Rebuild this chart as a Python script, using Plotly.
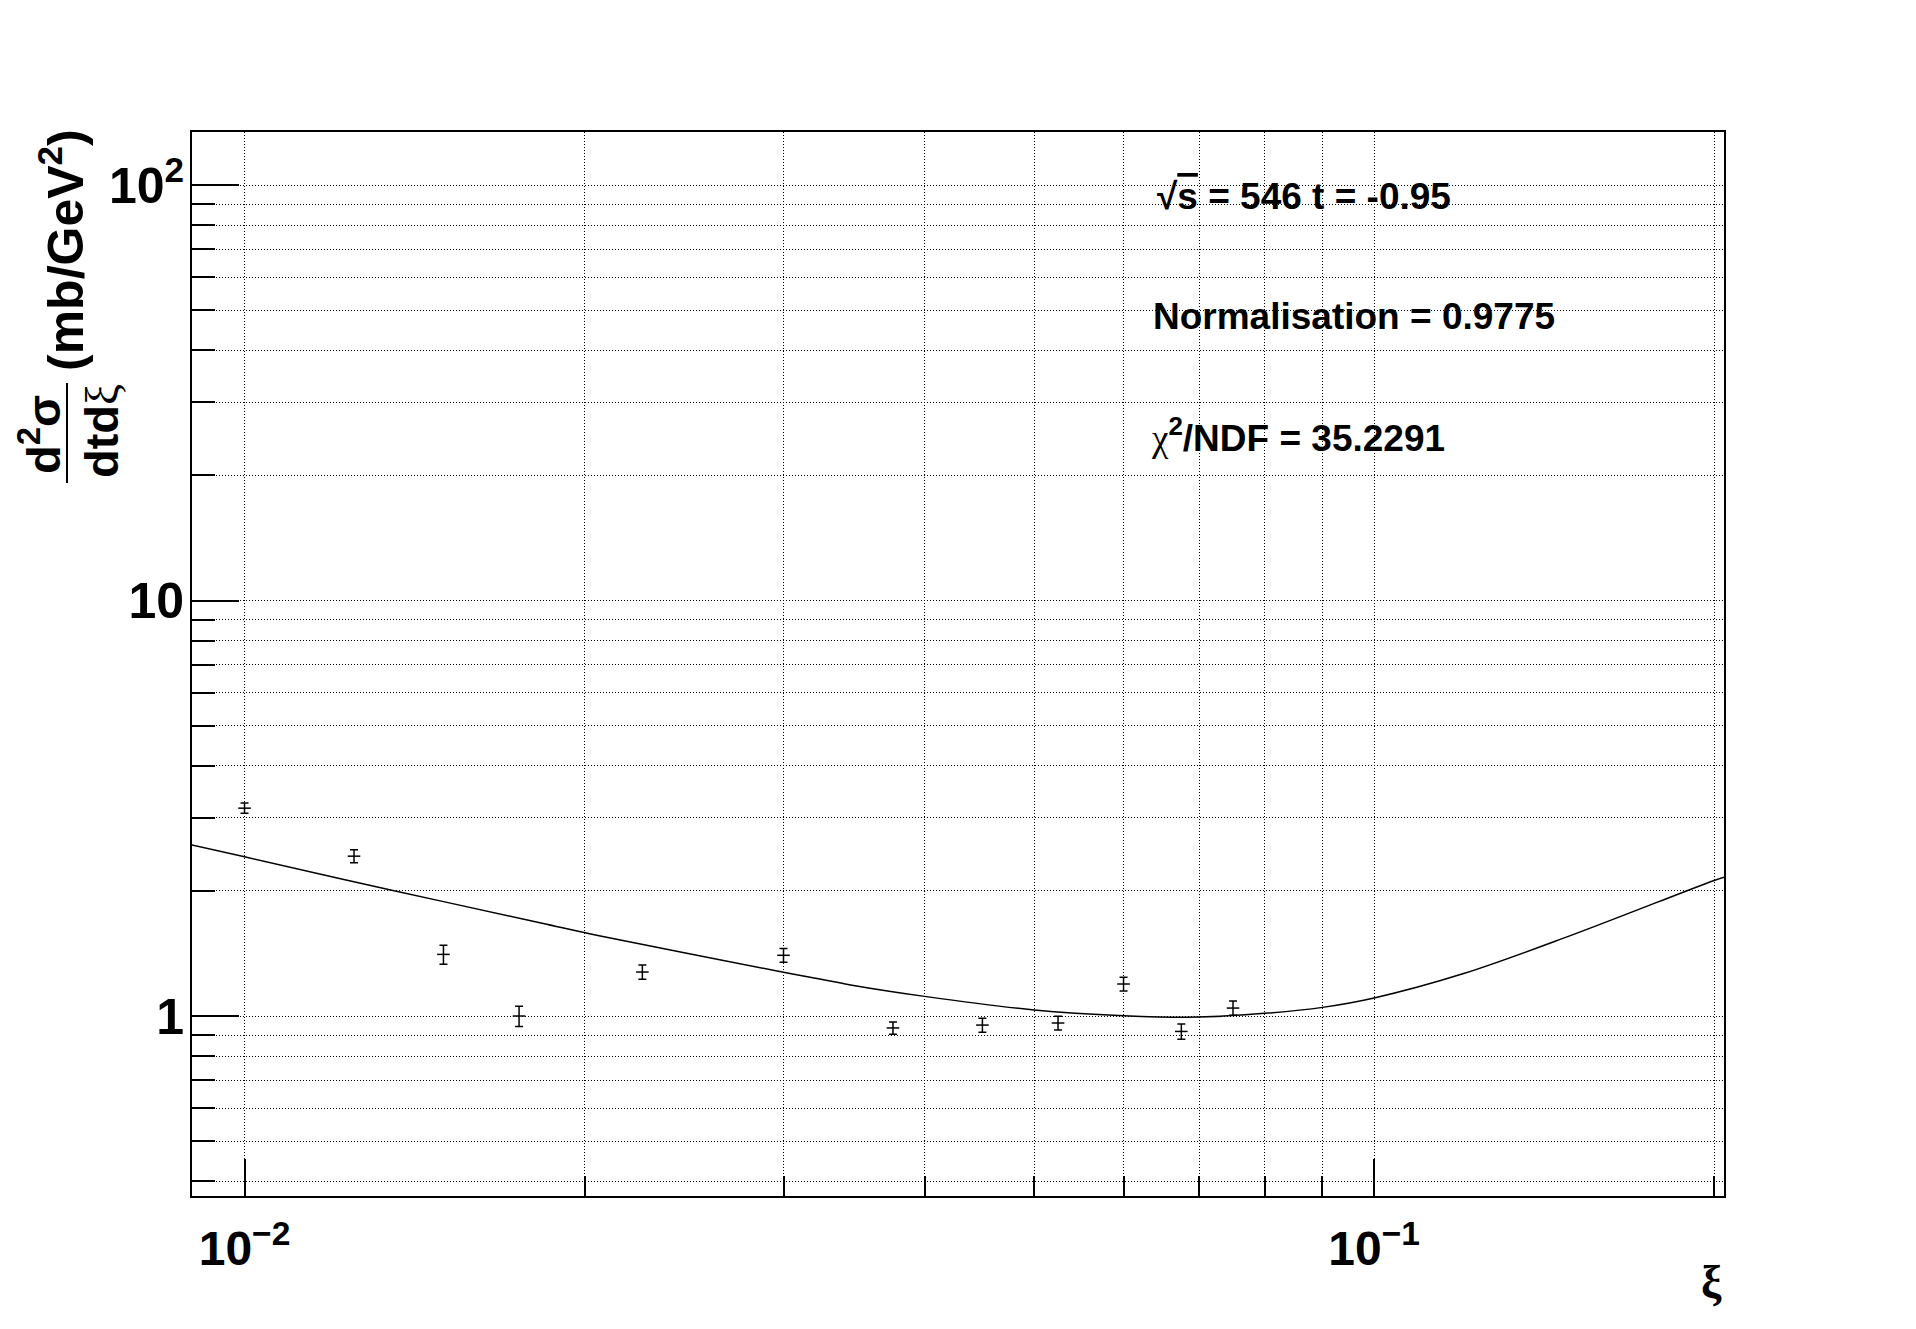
import plotly.graph_objects as go

# measured points
xi = [0.01, 0.0125, 0.015, 0.0175, 0.0225, 0.03, 0.0375, 0.045, 0.0525, 0.06, 0.0675, 0.075]
sigma = [3.164, 2.425, 1.407, 1.0, 1.276, 1.40, 0.936, 0.951, 0.962, 1.194, 0.918, 1.045]
sigma_err = [0.09, 0.087, 0.074, 0.056, 0.05, 0.053, 0.032, 0.037, 0.037, 0.046, 0.039, 0.041]

# fit curve
fit_xi = [0.00897, 0.01, 0.0135, 0.0183, 0.0206, 0.03, 0.0323, 0.0344, 0.04, 0.05,
          0.06, 0.07, 0.08, 0.09, 0.1, 0.12, 0.15, 0.2, 0.2044]
fit_sigma = [2.583, 2.416, 2.008, 1.675, 1.561, 1.274, 1.228, 1.188, 1.115, 1.034,
             1.002, 0.994, 1.015, 1.049, 1.105, 1.265, 1.57, 2.12, 2.16]

# axis ticks
x_grid = [0.01, 0.02, 0.03, 0.04, 0.05, 0.06, 0.07, 0.08, 0.09, 0.1, 0.2]
x_major = [0.01, 0.1]
x_major_text = ["10<sup>\u22122</sup>", "10<sup>\u22121</sup>"]
y_grid = [0.4, 0.5, 0.6, 0.7, 0.8, 0.9, 1, 2, 3, 4, 5, 6, 7, 8, 9,
          10, 20, 30, 40, 50, 60, 70, 80, 90, 100]
y_major = [1, 10, 100]
y_major_text = ["1", "10", "10<sup>2</sup>"]

W, H = 1916, 1329
# page has an 8px body margin, so shift the plot frame back
OFF = 8
PL, PT, PW, PH = 192, 132, 1532, 1064

def px(x):
    return (x - PL) / PW

def py(y):
    return (PT + PH - y) / PH

xr = [-2.0465, -0.6903]
yr = [-0.4332, 2.1276]
font = "Liberation Sans"

fig = go.Figure()
fig.add_trace(go.Scatter(x=fit_xi, y=fit_sigma, mode="lines",
                         line=dict(color="black", width=1.5, shape="spline"),
                         showlegend=False, hoverinfo="skip"))
fig.add_trace(go.Scatter(x=xi, y=sigma, mode="markers",
                         marker=dict(symbol="line-ew", size=9, color="black",
                                     line=dict(color="black", width=1.5)),
                         error_y=dict(type="data", array=sigma_err, color="black",
                                      thickness=1.5, width=4),
                         showlegend=False))

fig.update_layout(
    width=W, height=H,
    margin=dict(l=PL - OFF, r=W - PL - PW + OFF, t=PT - OFF, b=H - PT - PH + OFF),
    paper_bgcolor="white", plot_bgcolor="white",
    font=dict(family=font, color="black", size=48, weight="bold"),
    xaxis=dict(type="log", range=xr, tickvals=x_grid, showticklabels=False,
               ticks="inside", ticklen=20, tickwidth=1.5, tickcolor="black",
               showgrid=True, gridcolor="black", gridwidth=1, griddash="1px,2px",
               showline=True, linecolor="black", linewidth=2, mirror=True,
               zeroline=False),
    xaxis2=dict(type="log", range=xr, overlaying="x", anchor="y", side="bottom",
                tickvals=x_major, ticktext=x_major_text, ticks="inside",
                ticklen=37, tickwidth=1.5, tickcolor="black", showgrid=False,
                zeroline=False, ticklabelstandoff=20,
                tickfont=dict(family=font, size=48, color="black", weight="bold")),
    yaxis=dict(type="log", range=yr, tickvals=y_grid, showticklabels=False,
               ticks="inside", ticklen=23, tickwidth=1.5, tickcolor="black",
               showgrid=True, gridcolor="black", gridwidth=1, griddash="1px,2px",
               showline=True, linecolor="black", linewidth=2, mirror=True,
               zeroline=False),
    yaxis2=dict(type="log", range=yr, overlaying="y", anchor="x", side="left",
                tickvals=y_major, ticktext=y_major_text, ticks="inside",
                ticklen=47, tickwidth=1.5, tickcolor="black", showgrid=False,
                zeroline=False, ticklabelstandoff=7,
                tickfont=dict(family=font, size=50, color="black", weight="bold")),
)

# invisible trace so the overlay axes are drawn
fig.add_trace(go.Scatter(x=[0.05], y=[1], xaxis="x2", yaxis="y2", mode="markers",
                         marker=dict(opacity=0), showlegend=False, hoverinfo="skip"))

serif = "font-family:Liberation Serif;font-weight:normal"
ann = [
    ("\u221a<span style='text-decoration:overline'>s</span> = 546 t = -0.95", 1155, 196),
    ("Normalisation = 0.9775", 1151, 316),
    ("<span style='%s'>\u03c7</span><sup>2</sup>/NDF = 35.2291" % serif, 1149, 435),
]
for text, x0, y0 in ann:
    fig.add_annotation(text=text, x=px(x0), y=py(y0), xref="paper", yref="paper",
                       xanchor="left", yanchor="middle", showarrow=False,
                       font=dict(family=font, size=37, color="black", weight="bold"))

# axis titles
fig.add_annotation(text="\u03be", x=px(1724), y=py(1282), xref="paper", yref="paper",
                   xanchor="right", yanchor="middle", showarrow=False,
                   font=dict(family="Liberation Serif", size=46, color="black"))
fig.add_annotation(text="(mb/GeV<sup>2</sup>)", x=px(62), y=py(250), xref="paper",
                   yref="paper", xanchor="center", yanchor="middle", textangle=-90,
                   showarrow=False,
                   font=dict(family=font, size=50, color="black", weight="bold"))
fig.add_annotation(text="d<sup>2</sup>\u03c3", x=px(40), y=py(435), xref="paper",
                   yref="paper", xanchor="center", yanchor="middle", textangle=-90,
                   showarrow=False,
                   font=dict(family=font, size=47, color="black", weight="bold"))
fig.add_annotation(text="dtd<span style='%s'>\u03be</span>" % serif, x=px(101), y=py(431),
                   xref="paper", yref="paper", xanchor="center", yanchor="middle",
                   textangle=-90, showarrow=False,
                   font=dict(family=font, size=47, color="black", weight="bold"))
fig.add_shape(type="line", xref="paper", yref="paper", x0=px(67), x1=px(67),
              y0=py(383), y1=py(483), line=dict(color="black", width=2))

fig.write_html("out.html")
